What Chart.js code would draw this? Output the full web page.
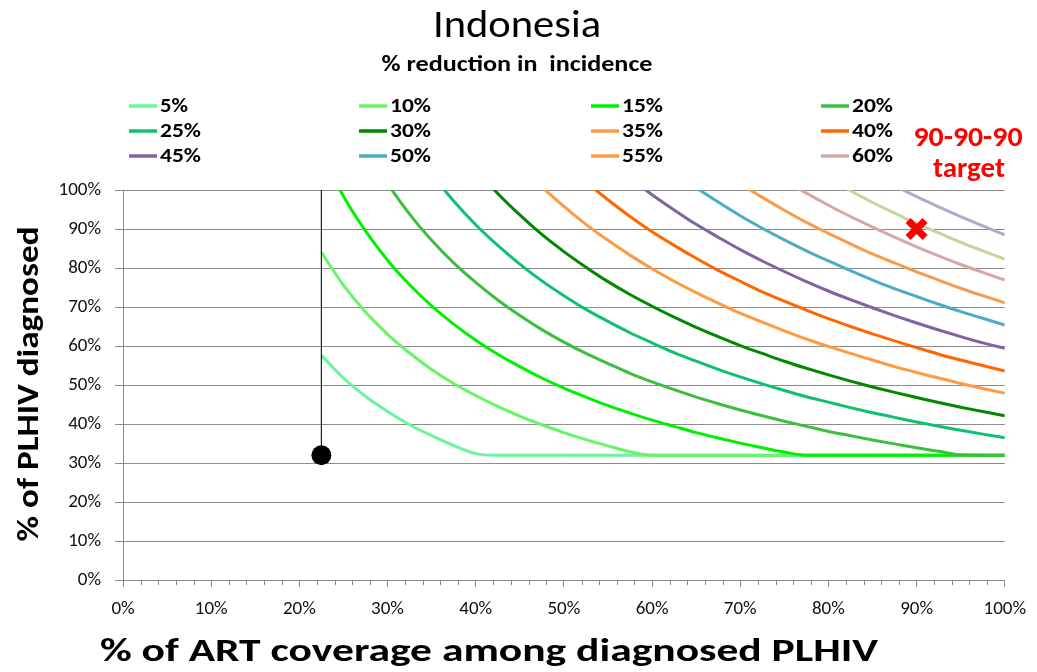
<!DOCTYPE html>
<html>
<head>
<meta charset="utf-8">
<script src="https://cdn.jsdelivr.net/npm/chart.js@4.4.1/dist/chart.umd.min.js"></script>
<style>
html,body{margin:0;padding:0;background:#fff;}
#wrap{width:1037px;height:672px;position:relative;}
</style>
</head>
<body>
<div id="wrap"><canvas id="c" width="1037" height="672"></canvas></div>
<script>
// ---- Data ----
// x: % of ART coverage among diagnosed PLHIV
const artCoverage = [22.5,25,27.5,30,32.5,35,37.5,40,42.5,45,47.5,50,52.5,55,57.5,60,62.5,65,67.5,70,72.5,75,77.5,80,82.5,85,87.5,90,92.5,95,97.5,100];

// y: % of PLHIV diagnosed, one array per % reduction in incidence (null = outside plotted range)
const red5  = [57.6,51.8,47.1,43.2,39.8,37.0,34.5,32.4,32,32,32,32,32,32,32,32,32,32,32,32,32,32,32,32,32,32,32,32,32,32,32,32];
const red10 = [84.0,75.6,68.7,63.0,58.2,54.0,50.4,47.3,44.5,42.0,39.8,37.8,36.0,34.4,32.9,32,32,32,32,32,32,32,32,32,32,32,32,32,32,32,32,32];
const red15 = [109.3,98.4,89.5,82.0,75.7,70.3,65.6,61.5,57.9,54.7,51.8,49.2,46.9,44.7,42.8,41.0,39.4,37.8,36.4,35.1,33.9,32.8,32,32,32,32,32,32,32,32,32,32];
const red20 = [null,null,110.9,101.7,93.8,87.1,81.3,76.3,71.8,67.8,64.2,61.0,58.1,55.5,53.0,50.8,48.8,46.9,45.2,43.6,42.1,40.7,39.4,38.1,37.0,35.9,34.9,33.9,33.0,32.1,32,32];
const red25 = [null,null,null,null,112.2,104.1,97.2,91.1,85.8,81.0,76.7,72.9,69.4,66.3,63.4,60.8,58.3,56.1,54.0,52.1,50.3,48.6,47.0,45.6,44.2,42.9,41.7,40.5,39.4,38.4,37.4,36.5];
const red30 = [null,null,null,null,null,null,112.3,105.3,99.1,93.6,88.6,84.2,80.2,76.5,73.2,70.2,67.4,64.8,62.4,60.1,58.1,56.1,54.3,52.6,51.0,49.5,48.1,46.8,45.5,44.3,43.2,42.1];
const red35 = [null,null,null,null,null,null,null,null,112.7,106.4,100.8,95.8,91.2,87.1,83.3,79.8,76.6,73.7,71.0,68.4,66.1,63.9,61.8,59.9,58.1,56.4,54.7,53.2,51.8,50.4,49.1,47.9];
const red40 = [null,null,null,null,null,null,null,null,null,null,112.8,107.2,102.1,97.5,93.2,89.3,85.8,82.5,79.4,76.6,73.9,71.5,69.2,67.0,65.0,63.1,61.3,59.6,57.9,56.4,55.0,53.6];
const red45 = [null,null,null,null,null,null,null,null,null,null,null,null,113.0,107.8,103.1,98.8,94.9,91.2,87.9,84.7,81.8,79.1,76.5,74.1,71.9,69.8,67.8,65.9,64.1,62.4,60.8,59.4];
const red50 = [null,null,null,null,null,null,null,null,null,null,null,null,null,null,113.7,109.0,104.6,100.6,96.9,93.4,90.2,87.2,84.4,81.8,79.3,76.9,74.7,72.7,70.7,68.8,67.1,65.4];
const red55 = [null,null,null,null,null,null,null,null,null,null,null,null,null,null,null,null,113.8,109.4,105.3,101.6,98.1,94.8,91.7,88.9,86.2,83.6,81.3,79.0,76.9,74.8,72.9,71.1];
const red60 = [null,null,null,null,null,null,null,null,null,null,null,null,null,null,null,null,null,null,113.9,109.9,106.1,102.5,99.2,96.1,93.2,90.5,87.9,85.4,83.1,80.9,78.9,76.9];
const red65 = [null,null,null,null,null,null,null,null,null,null,null,null,null,null,null,null,null,null,null,null,null,109.7,106.2,102.9,99.8,96.8,94.1,91.4,89.0,86.6,84.4,82.3];
const red70 = [null,null,null,null,null,null,null,null,null,null,null,null,null,null,null,null,null,null,null,null,null,null,null,110.6,107.3,104.1,101.1,98.3,95.7,93.2,90.8,88.5];

const seriesLabels = ['5%','10%','15%','20%','25%','30%','35%','40%','45%','50%','55%','60%','65%','70%'];
const seriesValues = [red5,red10,red15,red20,red25,red30,red35,red40,red45,red50,red55,red60,red65,red70];
const seriesColors = ['#6cf59c','#66f566','#00f000','#3cbf3c','#10c070','#008800','#ff9a40','#ff6600','#8064a2','#4aacc6','#f99b4a','#d7a6a6','#c3d69b','#b5a8d0'];
const legendCount = 12;

const currentLevel = {x:22.5, y:32};   // current ART coverage / diagnosed
const target = {x:90, y:90};           // 90-90-90 target
const xTickValues = [0,10,20,30,40,50,60,70,80,90,100];
const yTickValues = [0,10,20,30,40,50,60,70,80,90,100];

const FONT = 'Carlito, Lato, "Liberation Sans", sans-serif';

// ---- Datasets ----
const datasets = seriesValues.map((vals,i)=>({
  label: seriesLabels[i],
  data: artCoverage.map((x,j)=>({x:x, y:vals[j]})).filter(p=>p.y!==null),
  borderColor: seriesColors[i],
  backgroundColor: seriesColors[i],
  borderWidth: 3,
  pointRadius: 0,
  pointHoverRadius: 0,
  fill: false,
  cubicInterpolationMode: 'monotone',
  order: 100 - i,
  inLegend: i < legendCount
}));
datasets.push({
  label:'current-drop', data:[{x:currentLevel.x,y:currentLevel.y},{x:currentLevel.x,y:100}],
  borderColor:'#202020', borderWidth:1.2, pointRadius:0, fill:false, order:5, inLegend:false
});
datasets.push({
  label:'current', data:[currentLevel], showLine:false,
  pointRadius:10, pointBackgroundColor:'#000', pointBorderColor:'#000', pointBorderWidth:0,
  order:2, clip:false, inLegend:false
});
datasets.push({
  label:'target', data:[target], showLine:false,
  pointStyle:'crossRot', pointRadius:12, pointBorderColor:'#ff0000', pointBorderWidth:7,
  order:1, clip:false, inLegend:false
});

// draw text with a given font size, stretched horizontally to a target width
function drawText(ctx, text, x, y, size, weight, targetW){
  ctx.font = weight + ' ' + size + 'px ' + FONT;
  const w = ctx.measureText(text).width;
  const sx = targetW ? targetW / w : 1;
  ctx.save();
  ctx.translate(x, y);
  ctx.scale(sx, 1);
  ctx.fillText(text, 0, 0);
  ctx.restore();
}

const decor = {
  id:'decor',
  afterDraw(chart){
    const c = chart.ctx;
    const xs = chart.scales.x, ys = chart.scales.y;
    c.save();
    // minor ticks on the x axis every 2%
    c.strokeStyle = '#8c8c8c'; c.lineWidth = 1;
    for (let v = 0; v <= 100; v += 2){
      if (v % 10 === 0) continue;
      const px = Math.round(xs.getPixelForValue(v)) + 0.5;
      c.beginPath(); c.moveTo(px, ys.bottom); c.lineTo(px, ys.bottom + 5); c.stroke();
    }
    // Title & subtitle
    c.fillStyle = '#000';
    c.textAlign = 'center'; c.textBaseline = 'alphabetic';
    drawText(c, 'Indonesia', 517, 37, 39, 'normal', 168);
    drawText(c, '% reduction in  incidence', 517, 71, 22, 'bold', 271);
    // axis titles
    drawText(c, '% of ART coverage among diagnosed PLHIV', 489, 661, 32, 'bold', 778);
    c.save();
    c.translate(30, 384); c.rotate(-Math.PI/2);
    c.textBaseline = 'middle';
    drawText(c, '% of PLHIV diagnosed', 0, 0, 31, 'bold', 315);
    c.restore();
    // target annotation
    c.fillStyle = '#ff0000';
    drawText(c, '90-90-90', 968, 146, 28, 'bold', 109);
    drawText(c, 'target', 969, 177, 28, 'bold', 72);
    // legend (4 columns x 3 rows)
    const colX = [129, 359, 591, 821], rowY = [106, 131, 156];
    c.textAlign = 'left'; c.textBaseline = 'middle';
    let k = 0;
    chart.data.datasets.forEach(ds=>{
      if (!ds.inLegend) return;
      const x = colX[k % 4], y = rowY[Math.floor(k / 4)];
      c.strokeStyle = ds.borderColor; c.lineWidth = 3.5;
      c.beginPath(); c.moveTo(x, y); c.lineTo(x + 28, y); c.stroke();
      c.fillStyle = '#000';
      c.font = 'bold 20px ' + FONT;
      const w = c.measureText(ds.label).width;
      const tw = ds.label.length === 2 ? 28 : 41;
      c.save(); c.translate(x + 31, y + 1); c.scale(tw / w, 1); c.fillText(ds.label, 0, 0); c.restore();
      k++;
    });
    c.restore();
  }
};

new Chart(document.getElementById('c'), {
  type:'line',
  data:{ datasets: datasets },
  options:{
    responsive:false,
    animation:false,
    events:[],
    layout:{ padding:{ top:190, right:29, left:0, bottom:0 } },
    plugins:{ legend:{display:false}, title:{display:false}, tooltip:{enabled:false} },
    scales:{
      x:{
        type:'linear', min:0, max:100,
        afterFit(scale){ scale.height = 92; },
        afterBuildTicks(scale){ scale.ticks = xTickValues.map(v=>({value:v})); },
        ticks:{ callback:v=>v+'%', color:'#111', font:{family:FONT, size:19}, padding:11, maxRotation:0, autoSkip:false },
        grid:{ drawOnChartArea:false, drawTicks:true, tickLength:7, color:'#8c8c8c', lineWidth:1 },
        border:{ display:true, color:'#8c8c8c', width:1 }
      },
      y:{
        type:'linear', min:0, max:100,
        afterFit(scale){ scale.width = 123; },
        afterBuildTicks(scale){ scale.ticks = yTickValues.map(v=>({value:v})); },
        ticks:{ callback:v=>v+'%', color:'#111', font:{family:FONT, size:19}, padding:14, autoSkip:false },
        grid:{ drawTicks:true, tickLength:8, color:'#8c8c8c', lineWidth:1 },
        border:{ display:true, color:'#8c8c8c', width:1 }
      }
    }
  },
  plugins:[decor]
});
</script>
</body>
</html>
